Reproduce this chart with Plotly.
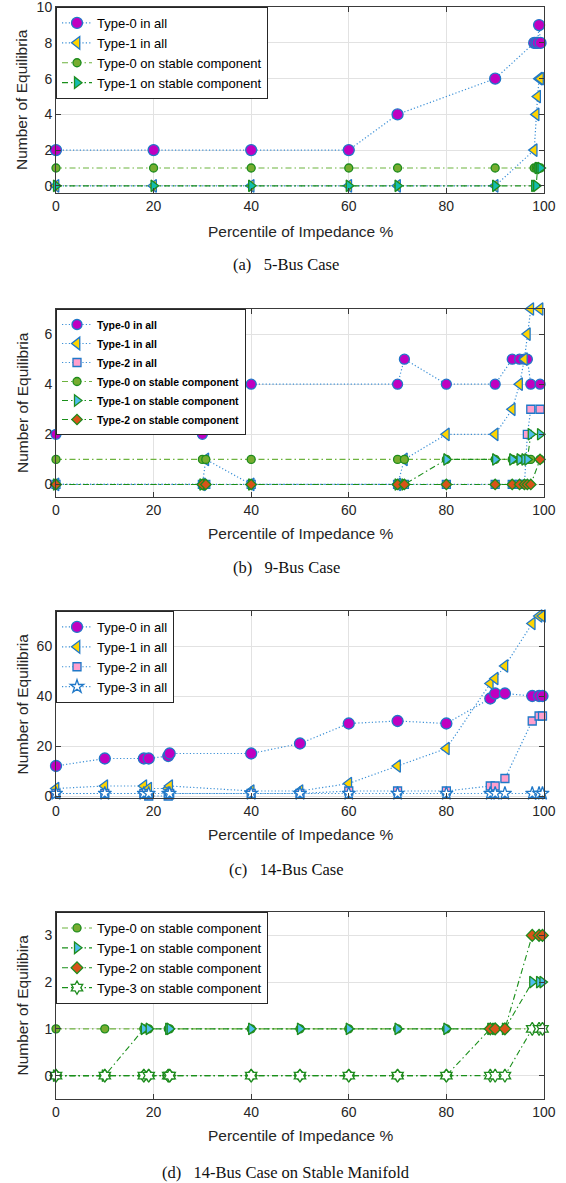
import plotly.graph_objects as go

SANS = "Liberation Sans, Arial, sans-serif"
SERIF = "Liberation Serif, Times New Roman, serif"

# ---------------- data ----------------
# (a) 5-Bus Case
a_x = [0, 20, 40, 60, 70, 90, 98, 98.4, 98.7, 99, 99.3]
a_t0_all = [2, 2, 2, 2, 4, 6, 8, 8, 8, 9, 8]
a_t1_all = [0, 0, 0, 0, 0, 0, 2, 4, 5, 6, 6]
a_t0_st = [1, 1, 1, 1, 1, 1, 1, 1, 1, 1, 1]
a_t1_st = [0, 0, 0, 0, 0, 0, 0, 0, 1, 1, 1]

# (b) 9-Bus Case
b_x = [0, 30, 30.7, 40, 70, 71.4, 80, 90, 93.5, 95, 96, 96.6, 97.3, 99.2]
b_t0_all = [2, 2, 3, 4, 4, 5, 4, 4, 5, 5, 5, 5, 4, 4]
b_t1_all = [0, 0, 1, 0, 0, 1, 2, 2, 3, 4, 5, 6, 7, 7]
b_t2_all = [0, 0, 0, 0, 0, 0, 0, 0, 0, 0, 0, 2, 3, 3]
b_t0_st = [1, 1, 1, 1, 1, 1, 1, 1, 1, 1, 1, 1, 1, 1]
b_t1_st = [0, 0, 0, 0, 0, 0, 1, 1, 1, 1, 1, 1, 2, 2]
b_t2_st = [0, 0, 0, 0, 0, 0, 0, 0, 0, 0, 0, 0, 0, 1]

# (c) 14-Bus Case
c_x = [0, 10, 18, 19, 23, 23.3, 40, 50, 60, 70, 80, 89, 90, 92, 97.6, 99, 99.7]
c_t0_all = [12, 15, 15, 15, 16, 17, 17, 21, 29, 30, 29, 39, 41, 41, 40, 40, 40]
c_t1_all = [3, 4, 4, 3, 3, 4, 2, 2, 5, 12, 19, 45, 47, 52, 69, 72, 72]
c_t2_all = [1, 1, 1, 0, 0, 1, 1, 1, 2, 2, 2, 4, 4, 7, 30, 32, 32]
c_t3_all = [1, 1, 1, 1, 1, 1, 1, 1, 1, 1, 1, 1, 1, 1, 1, 1, 1]

# (d) 14-Bus Case on Stable Manifold
d_x = [0, 10, 18, 19, 23, 23.3, 40, 50, 60, 70, 80, 89, 90, 92, 97.6, 99, 99.7]
d_t0_st = [1, 1, 1, 1, 1, 1, 1, 1, 1, 1, 1, 1, 1, 1, 1, 1, 1]
d_t1_st = [0, 0, 1, 1, 1, 1, 1, 1, 1, 1, 1, 1, 1, 1, 2, 2, 2]
d_t2_st = [0, 0, 0, 0, 0, 0, 0, 0, 0, 0, 0, 1, 1, 1, 3, 3, 3]
d_t3_st = [0, 0, 0, 0, 0, 0, 0, 0, 0, 0, 0, 0, 0, 0, 1, 1, 1]

x_ticks = [0, 20, 40, 60, 80, 100]

# ---------------- styles ----------------
BLUE_EDGE = "#1F78C8"
BLUE_LINE = "#3A8FD6"
GREEN_EDGE = "#1E8C1E"
GREEN_LINE0 = "#6DB33F"
GREEN_LINE = "#1A8F1A"
DOT = "1.2px,2.2px"
DASHDOT = "6px,3px,1.5px,3px"

def all_trace(x, y, name, symbol, fill, size, xa, ya, legend):
    return go.Scatter(
        x=x, y=y, name=name, mode="lines+markers", xaxis=xa, yaxis=ya, legend=legend,
        line=dict(color=BLUE_LINE, width=1.2, dash=DOT),
        marker=dict(symbol=symbol, size=size, color=fill, line=dict(color=BLUE_EDGE, width=1.3)),
        cliponaxis=False)

def st_trace(x, y, name, symbol, fill, size, xa, ya, legend, lcol=GREEN_LINE):
    return go.Scatter(
        x=x, y=y, name=name, mode="lines+markers", xaxis=xa, yaxis=ya, legend=legend,
        line=dict(color=lcol, width=1.1, dash=DASHDOT),
        marker=dict(symbol=symbol, size=size, color=fill, line=dict(color=GREEN_EDGE, width=1.3)),
        cliponaxis=False)

MAG = "#C000C0"
YEL = "#FFD400"
PINK = "#FF9FCC"
GRN = "#77AC30"
CYAN = "#4DBEEE"
TEAL = "#14BDB0"
ORG = "#D95319"

traces = [
    # (a)
    all_trace(a_x, a_t0_all, "Type-0 in all", "circle", MAG, 11, "x", "y", "legend"),
    all_trace(a_x, a_t1_all, "Type-1 in all", "triangle-left", YEL, 11, "x", "y", "legend"),
    st_trace(a_x, a_t0_st, "Type-0 on stable component", "circle", GRN, 8, "x", "y", "legend", GREEN_LINE0),
    st_trace(a_x, a_t1_st, "Type-1 on stable component", "triangle-right", TEAL, 10, "x", "y", "legend"),
    # (b)
    all_trace(b_x, b_t0_all, "Type-0 in all", "circle", MAG, 10, "x2", "y2", "legend2"),
    all_trace(b_x, b_t1_all, "Type-1 in all", "triangle-left", YEL, 11, "x2", "y2", "legend2"),
    all_trace(b_x, b_t2_all, "Type-2 in all", "square", PINK, 8, "x2", "y2", "legend2"),
    st_trace(b_x, b_t0_st, "Type-0 on stable component", "circle", GRN, 8, "x2", "y2", "legend2", GREEN_LINE0),
    st_trace(b_x, b_t1_st, "Type-1 on stable component", "triangle-right", CYAN, 10, "x2", "y2", "legend2"),
    st_trace(b_x, b_t2_st, "Type-2 on stable component", "diamond", ORG, 8, "x2", "y2", "legend2"),
    # (c)
    all_trace(c_x, c_t0_all, "Type-0 in all", "circle", MAG, 11, "x3", "y3", "legend3"),
    all_trace(c_x, c_t1_all, "Type-1 in all", "triangle-left", YEL, 11, "x3", "y3", "legend3"),
    all_trace(c_x, c_t2_all, "Type-2 in all", "square", PINK, 8, "x3", "y3", "legend3"),
    all_trace(c_x, c_t3_all, "Type-3 in all", "star", "white", 10, "x3", "y3", "legend3"),
    # (d)
    st_trace(d_x, d_t0_st, "Type-0 on stable component", "circle", GRN, 8, "x4", "y4", "legend4", GREEN_LINE0),
    st_trace(d_x, d_t1_st, "Type-1 on stable component", "triangle-right", CYAN, 10, "x4", "y4", "legend4"),
    st_trace(d_x, d_t2_st, "Type-2 on stable component", "diamond", ORG, 9, "x4", "y4", "legend4"),
    st_trace(d_x, d_t3_st, "Type-3 on stable component", "hexagram", "white", 10, "x4", "y4", "legend4"),
]

fig = go.Figure(data=traces)

W, H = 566, 1183
def py(p):
    return 1 - p / H

x_dom = [56 / W, 544 / W]
panels = [
    # (top px, bottom px, yrange, yticks, ytitle, caption, xtitle px, caption px)
    (7, 193, [-0.4, 10.01], [0, 2, 4, 6, 8, 10], "Number of Equilibria", "(a)\u2002 5-Bus Case", 231, 265),
    (309, 497, [-0.5, 7], [0, 2, 4, 6], "Number of Equilibria", "(b)\u2002 9-Bus Case", 533, 567),
    (611, 798, [-0.8, 74], [0, 20, 40, 60], "Number of Equilibria", "(c)\u2002 14-Bus Case", 834, 870),
    (912, 1099, [-0.5, 3.5], [0, 1, 2, 3], "Number of Equilibira", "(d)\u2002 14-Bus Case on Stable Manifold", 1135, 1172),
]

ax_common = dict(showline=True, linecolor="#3A3A3A", linewidth=1, mirror="ticks",
                 ticks="inside", ticklen=5, tickcolor="#3A3A3A", showgrid=True,
                 gridcolor="#E2E2E2", gridwidth=1, zeroline=False, ticklabeloverflow="allow",
                 automargin=False,
                 tickfont=dict(family=SANS, size=14, color="#262626"))

annotations = []
layout_upd = {}
for i, (top, bot, yr, yt, ytitle, cap, xt_px, cap_px) in enumerate(panels, start=1):
    sfx = "" if i == 1 else str(i)
    layout_upd["xaxis" + sfx] = dict(domain=x_dom, range=[0, 100.01], tickvals=x_ticks,
                                     anchor="y" + sfx, **ax_common)
    layout_upd["yaxis" + sfx] = dict(domain=[py(bot), py(top)], range=yr, tickvals=yt,
                                     anchor="x" + sfx, **ax_common)
    annotations.append(dict(text="Percentile of Impedance %", x=300 / W, y=py(xt_px),
                            xref="paper", yref="paper", showarrow=False, xanchor="center",
                            yanchor="middle", font=dict(family=SANS, size=15.5, color="#262626")))
    annotations.append(dict(text=ytitle, x=22 / W, y=py((top + bot) / 2), textangle=-90,
                            xref="paper", yref="paper", showarrow=False, xanchor="center",
                            yanchor="middle", font=dict(family=SANS, size=15.5, color="#262626")))
    annotations.append(dict(text=cap, x=286 / W, y=py(cap_px), xref="paper", yref="paper",
                            showarrow=False, xanchor="center", yanchor="middle",
                            font=dict(family=SERIF, size=16.5, color="#111111")))

leg_common = dict(xanchor="left", yanchor="top", bgcolor="white", bordercolor="#262626",
                  borderwidth=1, x=56 / W, itemwidth=30, tracegroupgap=0)

fig.update_layout(
    width=W, height=H, margin=dict(l=0, r=0, t=0, b=0, autoexpand=False),
    paper_bgcolor="white", plot_bgcolor="white",
    annotations=annotations,
    showlegend=True,
    legend=dict(y=py(7), font=dict(family=SANS, size=13, color="black"), **leg_common),
    legend2=dict(y=py(309), font=dict(family=SANS, size=10.5, color="black", weight="bold"), **leg_common),
    legend3=dict(y=py(611), font=dict(family=SANS, size=13, color="black"), **leg_common),
    legend4=dict(y=py(912), font=dict(family=SANS, size=13, color="black"), **leg_common),
    **layout_upd,
)

fig.write_html("out.html")
